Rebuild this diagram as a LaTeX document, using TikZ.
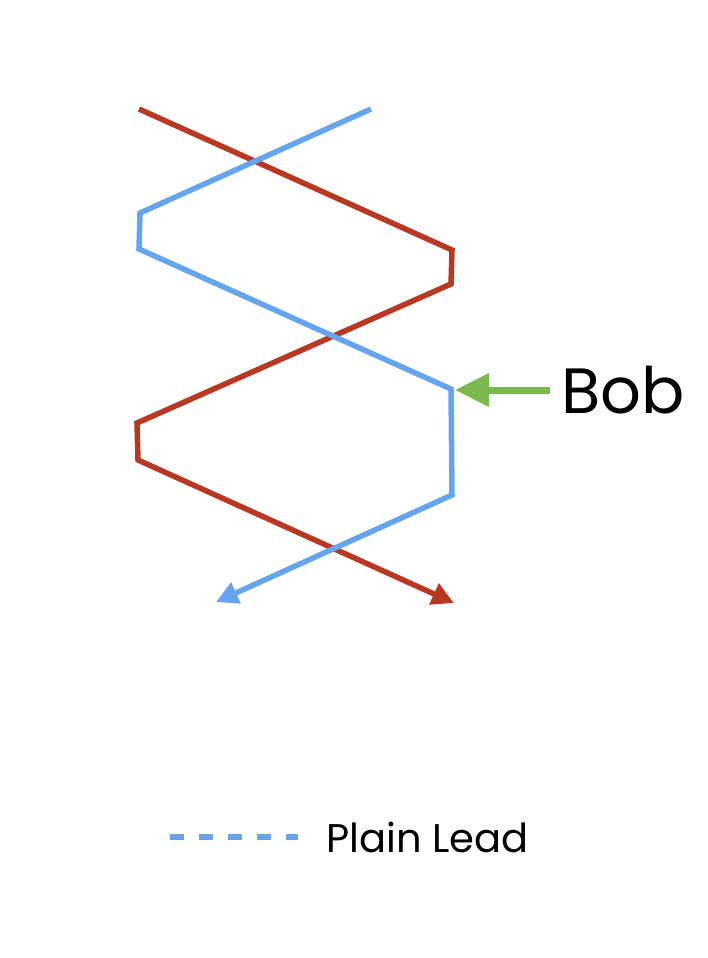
\documentclass[tikz,border=0pt]{standalone}
\usepackage{fontspec}
\setmainfont{Poppins}
\usetikzlibrary{arrows.meta,positioning}
\definecolor{leadred}{RGB}{185,56,36}
\definecolor{leadblue}{RGB}{102,165,238}
\definecolor{bobgreen}{RGB}{124,184,80}
\tikzset{
  bell/.style={line width=5.5pt, line join=miter},
  redbell/.style={bell, draw=leadred, -{Triangle[length=22pt,width=22pt]}},
  bluebell/.style={bell, draw=leadblue, -{Triangle[length=22pt,width=22pt]}},
}
\begin{document}
\begin{tikzpicture}[x=1pt,y=-1pt]
\useasboundingbox (0,0) rectangle (708,958);

%red line
\coordinate (r0) at (139,109);
\coordinate (r1) at (452,250);
\coordinate (r2) at (451,284);
\coordinate (r3) at (137,423);
\coordinate (r4) at (138,460);
\coordinate (r5) at (454,603);
%blue line
\coordinate (b0) at (371,109);
\coordinate (b1) at (140,213);
\coordinate (b2) at (139,249);
\coordinate (b3) at (451,389);
\coordinate (b4) at (452,495);
\coordinate (b5) at (216,602);

\draw [redbell] (r0) -- (r1) -- (r2) -- (r3) -- (r4) -- (r5);
\draw [bluebell] (b0) -- (b1) -- (b2) -- (b3) -- (b4) -- (b5);

%bob
\node [font=\fontsize{64}{64}\selectfont, anchor=west, inner sep=0pt] (bob) at (561,390) {Bob};
\coordinate (bobtip) at (455,390);
\draw [bobgreen, line width=7pt, -{Triangle[length=34pt,width=32pt]}] ([xshift=-11pt]bob.west) -- (bobtip);

%legend
\coordinate (leg0) at (170,837);
\coordinate (leg1) at (298,837);
\draw [leadblue, line width=6pt, dash pattern=on 14pt off 15pt] (leg0) -- (leg1);
\node [font=\fontsize{40}{40}\selectfont, anchor=west, inner sep=0pt] (legtext) at (326,837) {Plain Lead};
\end{tikzpicture}
\end{document}
